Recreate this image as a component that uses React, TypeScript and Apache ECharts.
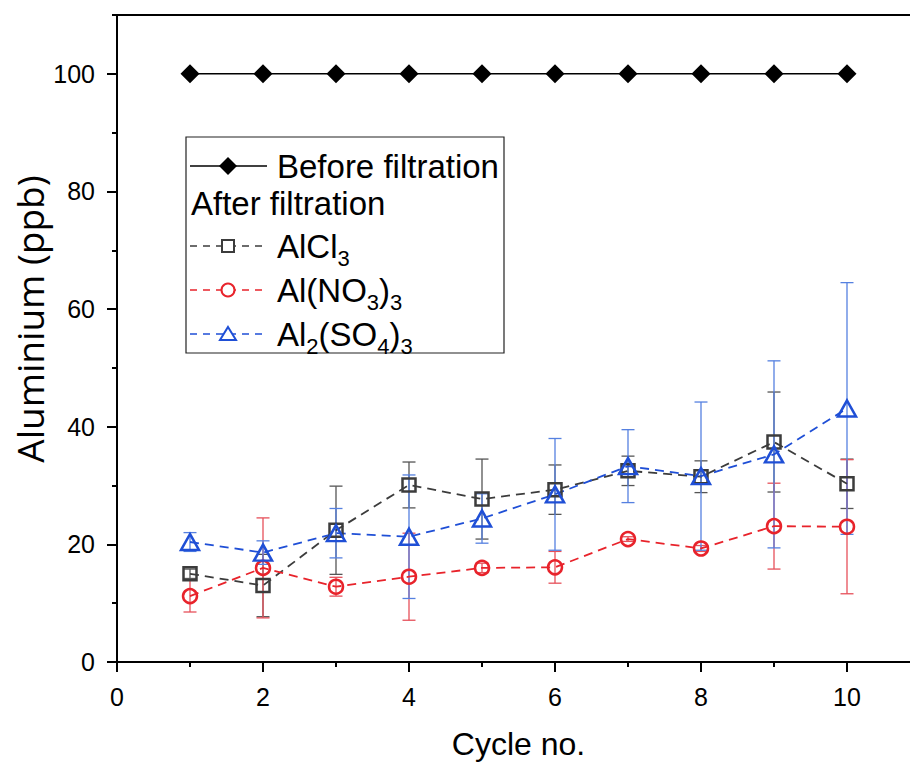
import React, { useEffect, useRef } from "react";
import * as echarts from "echarts";

const cycles = [1, 2, 3, 4, 5, 6, 7, 8, 9, 10];
const beforeValues = [100, 100, 100, 100, 100, 100, 100, 100, 100, 100];
const alcl3Values = [15.0, 13.0, 22.4, 30.1, 27.7, 29.3, 32.5, 31.5, 37.4, 30.3];
const alcl3Err = [0.8, 5.3, 7.5, 3.9, 6.8, 4.2, 2.5, 2.7, 8.5, 4.2];
const alno3Values = [11.2, 16.0, 12.8, 14.5, 16.0, 16.1, 20.9, 19.3, 23.1, 23.0];
const alno3Err = [2.7, 8.5, 1.6, 7.4, 0.8, 2.7, 0.4, 0.5, 7.3, 11.4];
const al2so43Values = [20.4, 18.6, 21.9, 21.3, 24.4, 28.5, 33.3, 31.6, 35.3, 43.1];
const al2so43Err = [1.6, 2.0, 4.2, 10.5, 4.2, 9.5, 6.2, 12.6, 15.9, 21.4];

const xTickLabels = [0, 2, 4, 6, 8, 10];
const yTickLabels = [0, 20, 40, 60, 80, 100];

const FONT = "Liberation Sans, Arial, sans-serif";
const GRAY = "#3c3c3c";
const RED = "#e8232b";
const BLUE = "#1f4fd6";

function errorSeries(values: number[], errs: number[], color: string) {
  return {
    type: "custom",
    silent: true,
    z: 1,
    xAxisIndex: 0,
    yAxisIndex: 0,
    encode: { x: 0, y: [1, 2] },
    data: cycles.map((c, i) => [c, values[i] - errs[i], values[i] + errs[i]]),
    renderItem: (params: any, api: any) => {
      const x = api.value(0);
      const pLo = api.coord([x, api.value(1)]);
      const pHi = api.coord([x, api.value(2)]);
      const hw = 6.5;
      const st = { stroke: color, lineWidth: 1.3 };
      return {
        type: "group",
        children: [
          { type: "line", shape: { x1: pHi[0], y1: pHi[1], x2: pLo[0], y2: pLo[1] }, style: st },
          { type: "line", shape: { x1: pHi[0] - hw, y1: pHi[1], x2: pHi[0] + hw, y2: pHi[1] }, style: st },
          { type: "line", shape: { x1: pLo[0] - hw, y1: pLo[1], x2: pLo[0] + hw, y2: pLo[1] }, style: st },
        ],
      };
    },
  };
}

function lineSeries(name: string, values: number[], color: string, symbol: string, size: any, dashed: boolean, filled: boolean) {
  return {
    type: "line",
    name,
    data: cycles.map((c, i) => [c, values[i]]),
    xAxisIndex: 0,
    yAxisIndex: 0,
    z: 3,
    symbol,
    symbolSize: size,
    showSymbol: true,
    lineStyle: { color, width: dashed ? 1.8 : 1.6, type: dashed ? [9, 6] : "solid" },
    itemStyle: filled
      ? { color, borderWidth: 0 }
      : { color: "rgba(255,255,255,0)", borderColor: color, borderWidth: 2.5 },
  };
}

const rich = {
  n: { fontSize: 33, fontFamily: FONT, color: "#000", verticalAlign: "top" },
  s: { fontSize: 22, fontFamily: FONT, color: "#000", verticalAlign: "top", padding: [17, 0, 0, 0] },
};

function legendGraphics() {
  const lx1 = 190;
  const lx2 = 264;
  const mx = 228;
  const tx = 277;
  const rows = [166, 203, 246, 290, 334];
  const g: any[] = [];
  g.push({ type: "rect", shape: { x: 186, y: 137, width: 318, height: 216 }, style: { fill: "#fff", stroke: "#222", lineWidth: 1.2 }, z: 10 });
  g.push({ type: "line", shape: { x1: lx1, y1: rows[0], x2: 267, y2: rows[0] }, style: { stroke: "#000", lineWidth: 1.6 }, z: 11 });
  g.push({ type: "polygon", shape: { points: [[mx, rows[0] - 9], [mx + 9, rows[0]], [mx, rows[0] + 9], [mx - 9, rows[0]]] }, style: { fill: "#000" }, z: 12 });
  g.push({ type: "text", x: tx, y: rows[0], style: { text: "Before filtration", fontSize: 33, fontFamily: FONT, fill: "#000", textVerticalAlign: "middle" }, z: 12 });
  g.push({ type: "text", x: 191, y: rows[1], style: { text: "After filtration", fontSize: 33, fontFamily: FONT, fill: "#000", textVerticalAlign: "middle" }, z: 12 });
  const dashRows = [
    { y: rows[2], color: GRAY, text: "{n|AlCl}{s|3}" },
    { y: rows[3], color: RED, text: "{n|Al(NO}{s|3}{n|)}{s|3}" },
    { y: rows[4], color: BLUE, text: "{n|Al}{s|2}{n|(SO}{s|4}{n|)}{s|3}" },
  ];
  dashRows.forEach((r, i) => {
    g.push({ type: "line", shape: { x1: lx1, y1: r.y, x2: lx2, y2: r.y }, style: { stroke: r.color, lineWidth: 1.6, lineDash: [7, 6] }, z: 11 });
    if (i === 0) {
      g.push({ type: "rect", shape: { x: mx - 6, y: r.y - 6, width: 12, height: 12 }, style: { fill: "#fff", stroke: r.color, lineWidth: 2 }, z: 12 });
    } else if (i === 1) {
      g.push({ type: "circle", shape: { cx: mx, cy: r.y, r: 6.5 }, style: { fill: "#fff", stroke: r.color, lineWidth: 2 }, z: 12 });
    } else {
      g.push({ type: "polygon", shape: { points: [[mx, r.y - 7], [mx + 8, r.y + 6], [mx - 8, r.y + 6]] }, style: { fill: "#fff", stroke: r.color, lineWidth: 2 }, z: 12 });
    }
    g.push({ type: "text", x: tx, y: r.y - 16, style: { text: r.text, rich, textVerticalAlign: "top", fill: "#000" }, z: 12 });
  });
  g.push({
    type: "text",
    x: 29,
    y: 319,
    rotation: Math.PI / 2,
    style: { text: "Aluminium (ppb)", fontSize: 37, fontFamily: "Open Sans, sans-serif", fill: "#000", textAlign: "center", textVerticalAlign: "middle" },
    z: 12,
  });
  return g;
}

export default function App() {
  const ref = useRef<HTMLDivElement>(null);
  useEffect(() => {
    if (!ref.current) return;
    const chart = echarts.init(ref.current, null, { renderer: "svg" });
    const axisLineStyle = { color: "#000", width: 2 };
    chart.setOption({
      animation: false,
      backgroundColor: "#fff",
      grid: { left: 117, right: 10, top: 15, bottom: 101, show: true, borderColor: "#000", borderWidth: 2, outerBoundsMode: "none", containLabel: false },
      xAxis: [
        {
          type: "value",
          min: 0,
          max: 11,
          interval: 2,
          position: "bottom",
          name: "Cycle no.",
          nameLocation: "middle",
          nameGap: 66,
          nameTextStyle: { fontSize: 32, fontFamily: FONT, color: "#000" },
          axisLine: { show: true, onZero: false, lineStyle: axisLineStyle },
          axisTick: { show: true, length: 10, lineStyle: axisLineStyle },
          axisLabel: { fontSize: 25, fontFamily: FONT, color: "#000", margin: 22, customValues: xTickLabels },
          splitLine: { show: false },
        },
        {
          type: "value",
          min: 0,
          max: 11,
          interval: 1,
          position: "bottom",
          axisLine: { show: false, onZero: false },
          axisTick: { show: true, length: 5, lineStyle: axisLineStyle },
          axisLabel: { show: false },
          splitLine: { show: false },
        },
      ],
      yAxis: [
        {
          type: "value",
          min: 0,
          max: 110,
          interval: 10,
          position: "left",
          axisLine: { show: true, onZero: false, lineStyle: axisLineStyle },
          axisTick: { show: true, length: 5, lineStyle: axisLineStyle },
          axisLabel: { fontSize: 25, fontFamily: FONT, color: "#000", margin: 22, customValues: yTickLabels },
          splitLine: { show: false },
        },
        {
          type: "value",
          min: 0,
          max: 110,
          interval: 20,
          position: "left",
          axisLine: { show: false, onZero: false },
          axisTick: { show: true, length: 10, lineStyle: axisLineStyle, customValues: yTickLabels },
          axisLabel: { show: false },
          splitLine: { show: false },
        },
      ],
      series: [
        errorSeries(alcl3Values, alcl3Err, "#555555"),
        errorSeries(alno3Values, alno3Err, "#e6505a"),
        errorSeries(al2so43Values, al2so43Err, "#5580e0"),
        lineSeries("Before filtration", beforeValues, "#000", "diamond", 19, false, true),
        lineSeries("AlCl3", alcl3Values, GRAY, "rect", 13, true, false),
        lineSeries("Al(NO3)3", alno3Values, RED, "circle", 14, true, false),
        lineSeries("Al2(SO4)3", al2so43Values, BLUE, "triangle", [18, 16], true, false),
      ],
      graphic: legendGraphics(),
    });
    return () => chart.dispose();
  }, []);
  return (
    <div style={{ position: "fixed", left: 0, top: 0, width: 910, height: 763, overflow: "hidden", background: "#fff" }}>
      <div ref={ref} style={{ width: 930, height: 763 }} />
    </div>
  );
}
